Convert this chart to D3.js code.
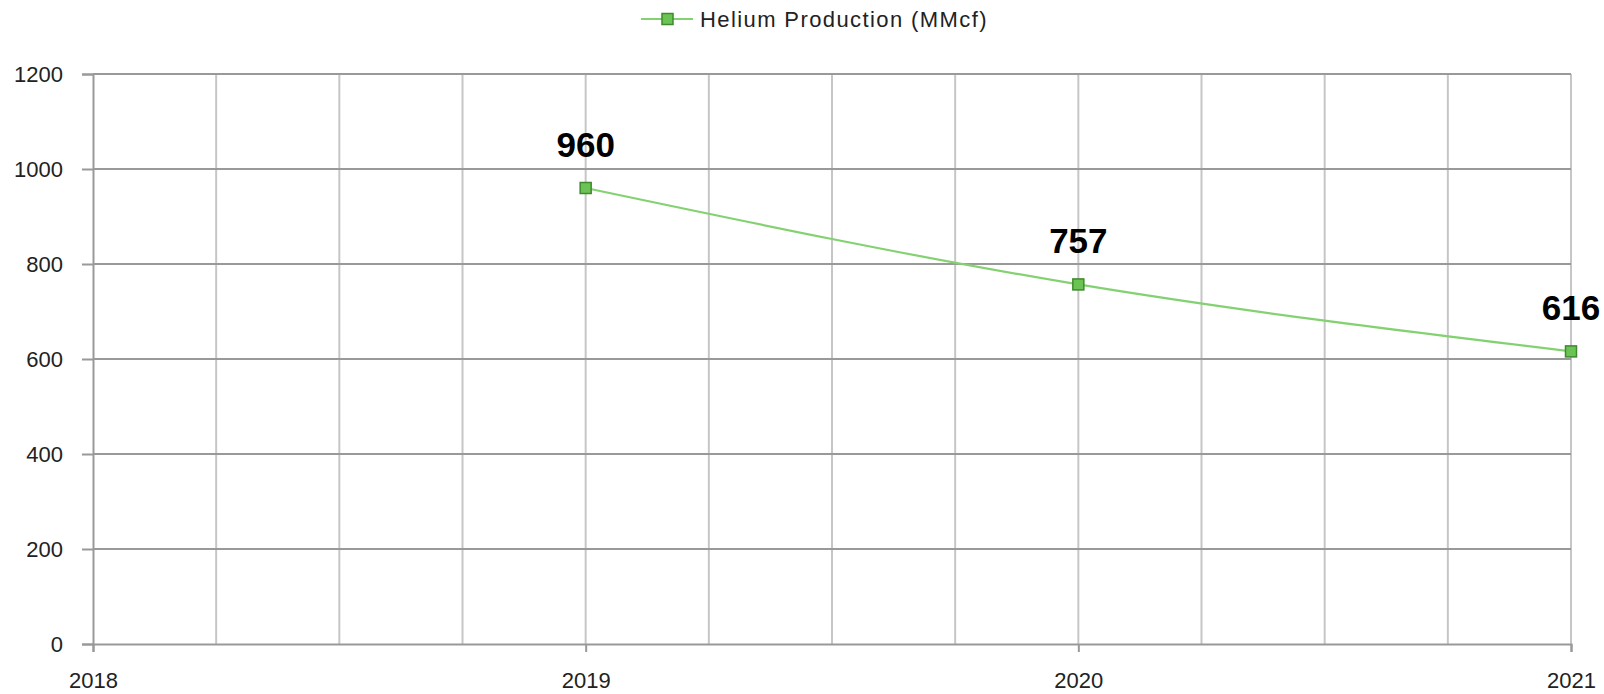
<!DOCTYPE html>
<html>
<head>
<meta charset="utf-8">
<script src="https://cdn.jsdelivr.net/npm/d3@7"></script>
<style>
  body { margin: 0; background: #fff; }
  svg { display: block; font-family: "Liberation Sans", Arial, sans-serif; }
</style>
</head>
<body>
<svg id="chart" width="1604" height="694"></svg>
<script>
const years = [2019, 2020, 2021];
const production = [960, 757, 616];
const xTickLabels = [2018, 2019, 2020, 2021];
const yTickValues = [0, 200, 400, 600, 800, 1000, 1200];
const seriesName = "Helium Production (MMcf)";

const svg = d3.select("#chart");
const margin = { left: 93, right: 33, top: 74, bottom: 50 };
const width = 1604, height = 694;

const x = d3.scaleLinear().domain([2018, 2021]).range([margin.left, width - margin.right]);
const y = d3.scaleLinear().domain([0, 1200]).range([height - margin.bottom, margin.top]);

const gridColor = "#c6c6c6";
const axisColor = "#999999";

// vertical grid (quarterly)
svg.append("g")
  .selectAll("line")
  .data(d3.range(2018.25, 2021.01, 0.25))
  .join("line")
  .attr("x1", d => x(d)).attr("x2", d => x(d))
  .attr("y1", y(1200)).attr("y2", y(0))
  .attr("stroke", gridColor).attr("stroke-width", 2);

// horizontal grid
svg.append("g")
  .selectAll("line")
  .data(yTickValues.slice(1))
  .join("line")
  .attr("x1", x(2018)).attr("x2", x(2021))
  .attr("y1", d => y(d)).attr("y2", d => y(d))
  .attr("stroke", axisColor).attr("stroke-width", 2);

// y axis
const yAxis = svg.append("g")
  .attr("transform", `translate(${margin.left},0)`)
  .call(d3.axisLeft(y).tickValues(yTickValues).tickFormat(d3.format("d")).tickSize(11).tickPadding(19));
yAxis.select(".domain").attr("stroke", axisColor).attr("stroke-width", 2);
yAxis.selectAll(".tick line").attr("stroke", axisColor).attr("stroke-width", 2);
yAxis.selectAll(".tick text").attr("font-size", 22).attr("fill", "#222")
  .attr("font-family", "Liberation Sans, Arial, sans-serif");

// x axis
const xAxis = svg.append("g")
  .attr("transform", `translate(0,${y(0)})`)
  .call(d3.axisBottom(x).tickValues(xTickLabels).tickFormat(d3.format("d")).tickSize(8).tickPadding(20));
xAxis.select(".domain").attr("stroke", axisColor).attr("stroke-width", 2);
xAxis.selectAll(".tick line").attr("stroke", axisColor).attr("stroke-width", 2);
xAxis.selectAll(".tick text").attr("font-size", 22).attr("fill", "#222")
  .attr("font-family", "Liberation Sans, Arial, sans-serif");

// series line
const data = years.map((yr, i) => ({ year: yr, value: production[i] }));
const line = d3.line()
  .x(d => x(d.year))
  .y(d => y(d.value))
  .curve(d3.curveMonotoneX);

svg.append("path")
  .datum(data)
  .attr("d", line)
  .attr("fill", "none")
  .attr("stroke", "#84d172")
  .attr("stroke-width", 2.2);

svg.append("g")
  .selectAll("rect")
  .data(data)
  .join("rect")
  .attr("x", d => x(d.year) - 5.5)
  .attr("y", d => y(d.value) - 5.5)
  .attr("width", 11).attr("height", 11)
  .attr("fill", "#6cc355")
  .attr("stroke", "#3e8a2c")
  .attr("stroke-width", 1.5);

// data labels
svg.append("g")
  .selectAll("text")
  .data(data)
  .join("text")
  .attr("x", d => x(d.year))
  .attr("y", d => y(d.value) - 31)
  .attr("text-anchor", "middle")
  .attr("font-size", 35)
  .attr("font-weight", "bold")
  .attr("fill", "#000")
  .text(d => d.value);

// legend
const legend = svg.append("g").attr("transform", "translate(641,19)");
legend.append("line")
  .attr("x1", 0).attr("x2", 52).attr("y1", 0).attr("y2", 0)
  .attr("stroke", "#84d172").attr("stroke-width", 2.2);
legend.append("rect")
  .attr("x", 21).attr("y", -5.5).attr("width", 11).attr("height", 11)
  .attr("fill", "#6cc355").attr("stroke", "#3e8a2c").attr("stroke-width", 1.5);
legend.append("text")
  .attr("x", 59).attr("y", 8)
  .attr("font-size", 22)
  .attr("letter-spacing", 1.4)
  .attr("fill", "#222")
  .text(seriesName);
</script>
</body>
</html>
